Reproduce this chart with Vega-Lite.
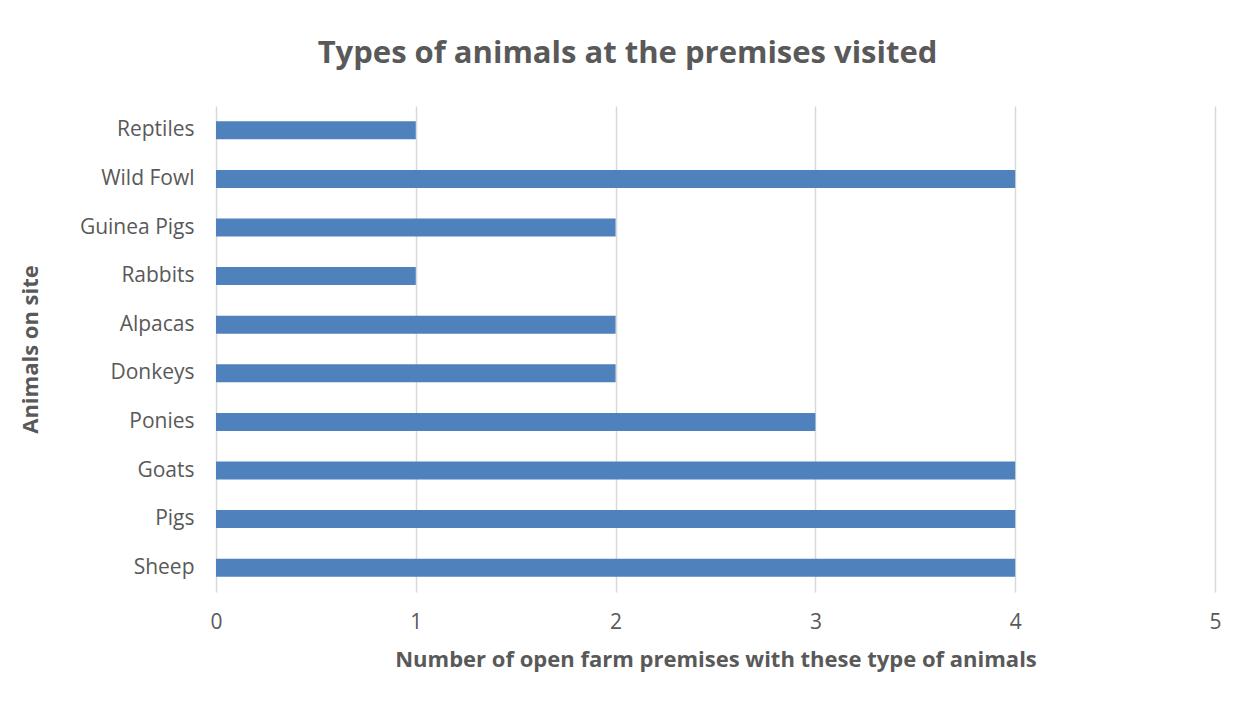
{
  "$schema": "https://vega.github.io/schema/vega-lite/v6.json",
  "autosize": "none",
  "width": 999,
  "height": 486,
  "padding": {"left": 216, "top": 106, "right": 34, "bottom": 116},
  "background": "white",
  "title": {
    "text": "Types of animals at the premises visited",
    "font": "Open Sans",
    "fontSize": 31,
    "fontWeight": "bold",
    "color": "#595959",
    "anchor": "middle",
    "dx": -88,
    "offset": 36
  },
  "data": {
    "values": [
      {"animal": "Reptiles", "count": 1},
      {"animal": "Wild Fowl", "count": 4},
      {"animal": "Guinea Pigs", "count": 2},
      {"animal": "Rabbits", "count": 1},
      {"animal": "Alpacas", "count": 2},
      {"animal": "Donkeys", "count": 2},
      {"animal": "Ponies", "count": 3},
      {"animal": "Goats", "count": 4},
      {"animal": "Pigs", "count": 4},
      {"animal": "Sheep", "count": 4}
    ]
  },
  "mark": {"type": "bar", "color": "#4f81bd"},
  "encoding": {
    "y": {
      "field": "animal",
      "type": "nominal",
      "sort": null,
      "scale": {"paddingInner": 0.63, "paddingOuter": 0.315},
      "axis": {
        "title": "Animals on site",
        "titleFont": "Open Sans",
        "titleFontSize": 22,
        "titleFontWeight": "bold",
        "titleColor": "#595959",
        "titlePadding": 37,
        "labelFont": "Open Sans",
        "labelFontSize": 21,
        "labelColor": "#595959",
        "labelPadding": 22,
        "ticks": false,
        "domain": false,
        "grid": false
      }
    },
    "x": {
      "field": "count",
      "type": "quantitative",
      "scale": {"domain": [0, 5], "nice": false},
      "axis": {
        "title": "Number of open farm premises with these type of animals",
        "titleFont": "Open Sans",
        "titleFontSize": 22,
        "titleFontWeight": "bold",
        "titleColor": "#595959",
        "titlePadding": 17,
        "labelFont": "Open Sans",
        "labelFontSize": 21,
        "labelColor": "#595959",
        "labelPadding": 19,
        "labelFlush": false,
        "values": [0, 1, 2, 3, 4, 5],
        "format": "d",
        "ticks": false,
        "domain": false,
        "grid": true,
        "gridColor": "#d9d9d9",
        "gridWidth": 1.5
      }
    }
  },
  "config": {"view": {"stroke": null}}
}
